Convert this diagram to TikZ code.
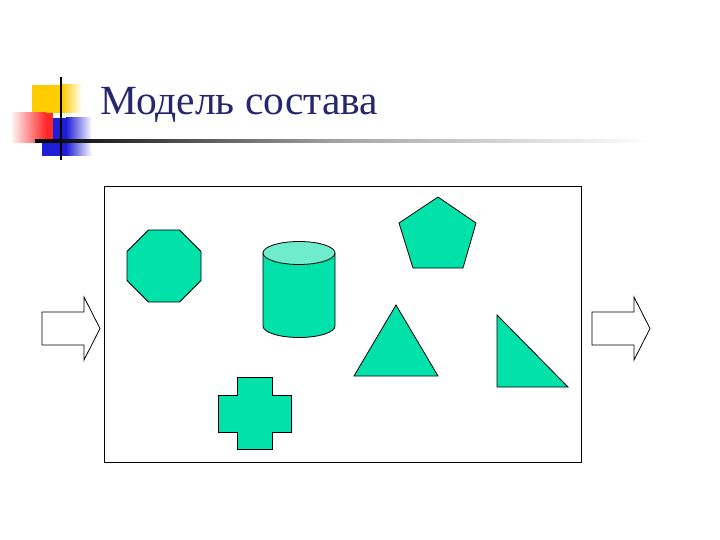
\documentclass[tikz,border=0pt]{standalone}
\usepackage{fontspec}
\setmainfont{Liberation Serif}
\usetikzlibrary{positioning}

\definecolor{mint}{RGB}{0,226,170}
\definecolor{minttop}{RGB}{110,236,204}
\definecolor{navy}{RGB}{38,38,110}
\definecolor{decoyellow}{RGB}{255,204,0}
\definecolor{decored}{RGB}{255,40,40}
\definecolor{decoblue}{RGB}{30,30,215}

\begin{document}
\begin{tikzpicture}[x=1pt, y=-1pt,
        figure/.style={draw=black, line width=0.8pt, fill=mint},
        blockarrow/.style={draw=black, line width=0.8pt, fill=white},
        frame/.style={draw=black, line width=1.2pt, minimum width=477pt, minimum height=276pt, inner sep=0pt},
        heading/.style={font=\fontsize{41.5}{50}\selectfont, text=navy, anchor=base west, inner sep=0pt},
        rule/.style={line width=2.5pt}
    ]
    \useasboundingbox (0,0) rectangle (720,540);

    % Title decoration
    \fill[decoyellow] (32,85) rectangle (62,113);
    \shade[left color=decoyellow, right color=white] (62,85) rectangle (82,113);
    \fill[decoblue] (42,118) rectangle (66,156);
    \shade[left color=decoblue, right color=white] (66,118) rectangle (92,156);
    \shade[left color=white, right color=decored] (10,113) rectangle (46,143);
    \fill[decored] (46,113) rectangle (53,143);
    \draw[rule, black] (61,77) -- (61,160);
    \shade[left color=black, right color=white, middle color=gray!70] (35,139.8) rectangle (650,142.2);

    % Title
    \node[heading] (title) at (100,115) {Модель состава};

    % Frame
    \node[frame, anchor=north west] (frame) at (104,186) {};

    % Input and output arrows
    \draw[blockarrow] (42,312) -- (84,312) -- (84,297) -- (100,328.5) -- (84,360) -- (84,345) -- (42,345) -- cycle;
    \draw[blockarrow] (592,312) -- (634,312) -- (634,297) -- (650,328.5) -- (634,360) -- (634,345) -- (592,345) -- cycle;

    % Octagon
    \draw[figure] (148.5,230) -- (179.5,230) -- (201,251.5) -- (201,280.5) -- (179.5,302) -- (148.5,302) -- (127,280.5) -- (127,251.5) -- cycle;

    % Cylinder
    \draw[figure] (263,253) -- (263,326) arc[start angle=180, end angle=0, x radius=36, y radius=11.5] -- (335,253) -- cycle;
    \draw[figure, fill=minttop] (299,253) ellipse[x radius=36, y radius=11.5];

    % Pentagon
    \draw[figure] (438,197) -- (476,223) -- (463,268) -- (413,268) -- (399,223) -- cycle;

    % Triangles
    \draw[figure] (396,305) -- (438,376) -- (354,376) -- cycle;
    \draw[figure] (497,315) -- (568,387) -- (497,387) -- cycle;

    % Cross
    \draw[figure] (237,377) -- (272,377) -- (272,395) -- (291,395) -- (291,432) -- (272,432) -- (272,449) -- (237,449) -- (237,432) -- (218,432) -- (218,395) -- (237,395) -- cycle;
\end{tikzpicture}
\end{document}
